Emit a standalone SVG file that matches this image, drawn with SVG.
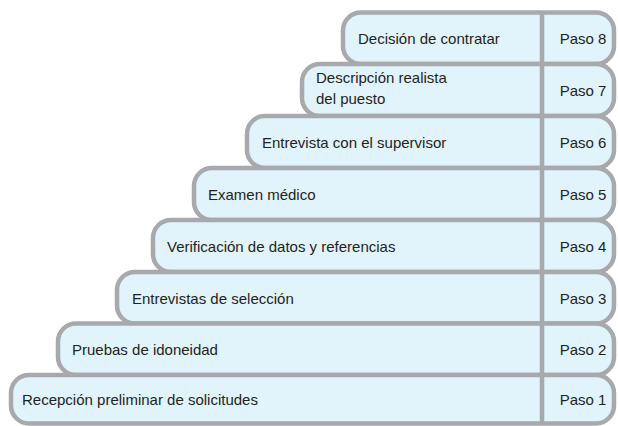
<svg xmlns="http://www.w3.org/2000/svg" width="618" height="426" viewBox="0 0 618 426">
<style>
.box{fill:#e1f4fc;stroke:#a7a9ac;stroke-width:4.5}
.div{stroke:#a7a9ac;stroke-width:4.5}
.t{font-family:"Liberation Sans",Arial,sans-serif;font-size:15px;fill:#231f20}
.p{font-family:"Liberation Sans",Arial,sans-serif;font-size:15px;fill:#231f20;text-anchor:middle}
</style>
<rect width="618" height="426" fill="#ffffff"/>
<g id="paso8">
<rect class="box" x="343" y="12.5" width="271" height="51.5" rx="18"/>
<line class="div" x1="542" y1="12.5" x2="542" y2="64"/>
<text class="t" x="358" y="44">Decisión de contratar</text>
<text class="p" x="583" y="44">Paso 8</text>
</g>
<g id="paso7">
<rect class="box" x="302" y="64" width="312" height="52" rx="18"/>
<line class="div" x1="542" y1="64" x2="542" y2="116"/>
<text class="t" x="316" y="83">Descripción realista</text>
<text class="t" x="316" y="104">del puesto</text>
<text class="p" x="583" y="96">Paso 7</text>
</g>
<g id="paso6">
<rect class="box" x="247" y="116" width="367" height="52" rx="18"/>
<line class="div" x1="542" y1="116" x2="542" y2="168"/>
<text class="t" x="262" y="148">Entrevista con el supervisor</text>
<text class="p" x="583" y="148">Paso 6</text>
</g>
<g id="paso5">
<rect class="box" x="194" y="168" width="420" height="52" rx="18"/>
<line class="div" x1="542" y1="168" x2="542" y2="220"/>
<text class="t" x="208" y="200">Examen médico</text>
<text class="p" x="583" y="200">Paso 5</text>
</g>
<g id="paso4">
<rect class="box" x="153" y="220" width="461" height="52" rx="18"/>
<line class="div" x1="542" y1="220" x2="542" y2="272"/>
<text class="t" x="167" y="252">Verificación de datos y referencias</text>
<text class="p" x="583" y="252">Paso 4</text>
</g>
<g id="paso3">
<rect class="box" x="117" y="272" width="497" height="51.5" rx="18"/>
<line class="div" x1="542" y1="272" x2="542" y2="323.5"/>
<text class="t" x="132" y="304">Entrevistas de selección</text>
<text class="p" x="583" y="304">Paso 3</text>
</g>
<g id="paso2">
<rect class="box" x="58" y="323.5" width="556" height="51.5" rx="18"/>
<line class="div" x1="542" y1="323.5" x2="542" y2="375"/>
<text class="t" x="72" y="355">Pruebas de idoneidad</text>
<text class="p" x="583" y="355">Paso 2</text>
</g>
<g id="paso1">
<rect class="box" x="11" y="375" width="603" height="48.5" rx="18"/>
<line class="div" x1="542" y1="375" x2="542" y2="423.5"/>
<text class="t" x="22" y="405">Recepción preliminar de solicitudes</text>
<text class="p" x="583" y="405">Paso 1</text>
</g>
<g id="connectors"/>
</svg>
